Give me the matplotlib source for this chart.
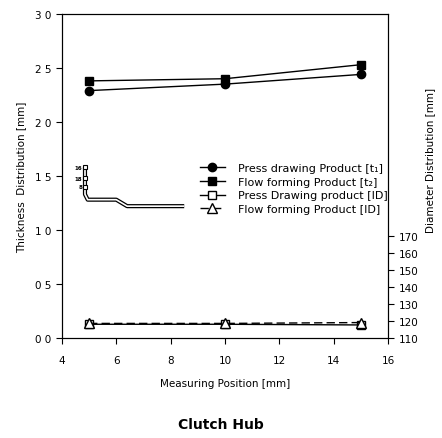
import matplotlib
matplotlib.use("Agg")
import matplotlib.pyplot as plt

# measuring positions [mm]
pos = [5, 10, 15]

# thickness distribution [mm]
press_t1 = [2.29, 2.35, 2.44]
flow_t2 = [2.38, 2.40, 2.53]

# diameter distribution [mm]
press_id = [118.0, 118.0, 117.6]
flow_id = [118.5, 118.5, 119.0]

# stray profile sketch left in the scan (thickness axis)
prof_x = [4.85, 4.85, 4.95, 6.0, 6.4, 8.5]
prof_y = [1.58, 1.33, 1.28, 1.28, 1.22, 1.22]

left_ticks = [0.0, 0.5, 1.0, 1.5, 2.0, 2.5, 3.0]
right_ticks = [110, 120, 130, 140, 150, 160, 170]
x_ticks = [4, 6, 8, 10, 12, 14, 16]

plt.rcParams['font.family'] = ['DejaVu Sans']
fig = plt.figure(figsize=(4.42, 4.39), dpi=100)
ax1 = fig.add_axes([0.140, 0.228, 0.738, 0.738])
ax2 = ax1.twinx()

l1, = ax1.plot(pos, press_t1, c='k', lw=1.0, marker='o', ms=6,
               label='Press drawing Product [t\u2081]')
l2, = ax1.plot(pos, flow_t2, c='k', lw=1.0, marker='s', ms=6,
               label='Flow forming Product [t\u2082]')

# profile drawn as a double line
ax1.plot(prof_x, prof_y, c='k', lw=3.0, solid_capstyle='butt')
ax1.plot(prof_x, prof_y, c='w', lw=1.2, solid_capstyle='butt')
ax1.plot([4.85, 4.85, 4.85], [1.58, 1.48, 1.40], ls='none', marker='s',
         ms=3, mfc='w', mec='k', mew=0.8)
for lab, yv in zip(['16', '18', '8'], [1.58, 1.48, 1.40]):
    ax1.text(4.75, yv, lab, fontsize=4, fontweight='bold', ha='right', va='center')

l3, = ax2.plot(pos, press_id, c='k', lw=1.0, marker='s', ms=6, mfc='w',
               label='Press Drawing product [ID]')
l4, = ax2.plot(pos, flow_id, c='k', lw=1.0, ls=(0, (6, 3)), marker='^', ms=7,
               mfc='w', label='Flow forming Product [ID]')

ax1.set_xlim(4, 16)
ax1.set_ylim(0, 3.0)
ax2.set_ylim(110, 300)

ax1.set_xticks(x_ticks)
ax1.set_yticks(left_ticks)
ax1.set_yticklabels([f'{v:.1f}'.replace('.', ' ') for v in left_ticks])
ax2.set_yticks(right_ticks)

for a in (ax1, ax2):
    a.tick_params(direction='out', length=4, width=0.8, labelsize=7.5, colors='k')
ax1.tick_params(axis='x', pad=8)

ax1.set_xlabel('Measuring Position [mm]', fontsize=7.5, labelpad=10)
ax1.set_ylabel('Thickness  Distribution [mm]', fontsize=7.5, labelpad=6)
ax2.set_ylabel('Diameter Distribution [mm]', fontsize=7.5, rotation=90,
               va='center')
ax2.yaxis.set_label_coords(1.13, 0.55)

fig.legend(handles=[l1, l2, l3, l4], loc='upper left',
           bbox_to_anchor=(0.43, 0.65), frameon=False, fontsize=8,
           handlelength=2.2, labelspacing=0.35, handletextpad=1.2)

fig.text(0.5, 0.015, 'Clutch Hub', ha='center', va='bottom',
         fontsize=10, fontweight='bold')

fig.savefig('out.png', dpi=100)
